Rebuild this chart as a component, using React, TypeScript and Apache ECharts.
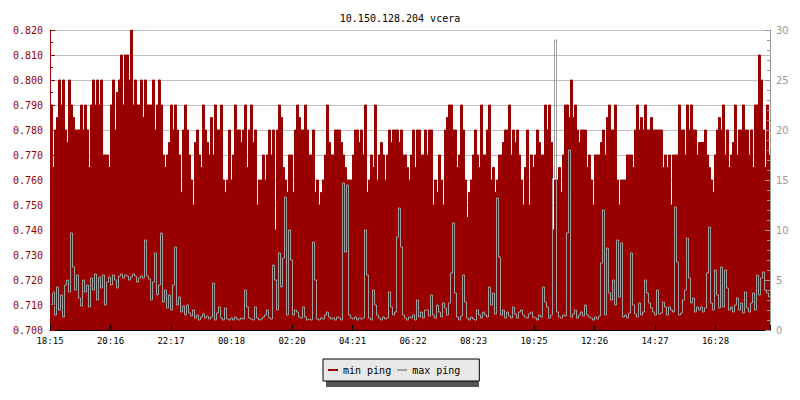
import React, { useEffect, useRef } from 'react';
import * as echarts from 'echarts';

const chartTitle = '10.150.128.204 vcera';
const timeLabels = ['18:15', '20:16', '22:17', '00:18', '02:20', '04:21', '06:22', '08:23', '10:25', '12:26', '14:27', '16:28'];
const seriesNames = ['min ping', 'max ping'];

// min ping (left axis), one value per 4 minutes
const minPing = [
  0.790,0.765,0.780,0.785,0.800,0.790,0.800,0.780,0.775,0.800,
  0.790,0.785,0.780,0.780,0.780,0.790,0.780,0.790,0.780,0.765,
  0.790,0.800,0.790,0.800,0.790,0.800,0.770,0.770,0.770,0.765,
  0.790,0.800,0.780,0.795,0.800,0.810,0.790,0.810,0.810,0.800,
  0.820,0.790,0.800,0.790,0.790,0.800,0.785,0.800,0.790,0.790,
  0.790,0.800,0.780,0.790,0.800,0.790,0.770,0.765,0.770,0.775,
  0.790,0.780,0.790,0.780,0.770,0.755,0.780,0.790,0.780,0.770,
  0.760,0.750,0.775,0.780,0.770,0.765,0.790,0.780,0.775,0.770,
  0.785,0.770,0.790,0.780,0.780,0.790,0.760,0.755,0.760,0.780,

  0.760,0.770,0.790,0.780,0.780,0.775,0.780,0.790,0.765,0.780,
  0.790,0.775,0.780,0.750,0.760,0.760,0.770,0.760,0.770,0.780,
  0.770,0.780,0.740,0.780,0.790,0.785,0.765,0.760,0.755,0.770,
  0.770,0.755,0.780,0.790,0.785,0.780,0.780,0.790,0.780,0.770,
  0.770,0.780,0.755,0.760,0.750,0.755,0.760,0.770,0.790,0.775,
  0.770,0.770,0.780,0.780,0.780,0.775,0.770,0.765,0.760,0.760,
  0.760,0.770,0.780,0.780,0.775,0.780,0.770,0.790,0.755,0.760,
  0.770,0.765,0.790,0.760,0.770,0.775,0.770,0.760,0.770,0.780,
  0.775,0.780,0.780,0.780,0.775,0.780,0.770,0.770,0.765,0.760,

  0.770,0.780,0.765,0.780,0.780,0.770,0.770,0.780,0.770,0.780,
  0.780,0.750,0.760,0.755,0.770,0.760,0.750,0.780,0.785,0.790,
  0.790,0.780,0.780,0.765,0.770,0.790,0.780,0.760,0.745,0.755,
  0.760,0.770,0.780,0.770,0.765,0.790,0.770,0.770,0.780,0.790,
  0.760,0.765,0.755,0.760,0.770,0.770,0.775,0.780,0.780,0.790,
  0.770,0.780,0.775,0.780,0.770,0.760,0.750,0.765,0.780,0.750,
  0.770,0.765,0.770,0.780,0.775,0.770,0.770,0.790,0.780,0.790,
  0.775,0.740,0.760,0.760,0.765,0.755,0.770,0.790,0.790,0.785,
  0.800,0.785,0.790,0.780,0.775,0.780,0.780,0.780,0.765,0.770,

  0.760,0.750,0.770,0.770,0.770,0.775,0.780,0.770,0.785,0.790,
  0.780,0.780,0.790,0.760,0.750,0.760,0.760,0.760,0.770,0.770,
  0.770,0.765,0.780,0.790,0.780,0.785,0.780,0.790,0.780,0.780,
  0.785,0.780,0.780,0.780,0.780,0.780,0.765,0.770,0.765,0.770,
  0.750,0.770,0.770,0.770,0.790,0.780,0.780,0.770,0.790,0.780,
  0.790,0.780,0.780,0.770,0.775,0.775,0.775,0.780,0.770,0.765,
  0.760,0.755,0.770,0.780,0.785,0.780,0.790,0.770,0.780,0.765,
  0.770,0.775,0.790,0.770,0.780,0.780,0.790,0.780,0.780,0.770,
  0.780,0.765,0.790,0.790,0.810,0.800,0.780,0.765,0.790,0.770
];

// max ping (right axis)
const maxPing = [
  2.5,3.8,1.5,4.3,2.0,3.5,1.3,4.5,5.0,3.8,
  9.7,6.3,4.0,5.5,3.2,2.4,5.0,3.8,4.5,2.3,
  5.2,4.0,5.6,3.0,5.3,4.2,5.5,2.5,4.8,5.3,
  4.5,5.5,5.0,4.2,5.4,5.6,5.2,5.5,5.4,5.0,
  5.3,5.6,5.4,4.8,5.2,5.4,5.2,9.0,5.4,5.1,
  3.0,4.8,7.7,3.5,4.5,9.7,2.8,4.0,2.2,3.5,
  2.0,4.5,8.3,2.5,3.3,1.8,2.4,1.5,2.5,1.7,
  1.4,2.0,1.2,1.5,1.0,1.3,1.6,1.2,1.4,1.1,
  1.3,4.7,1.0,1.7,2.3,1.2,1.0,2.2,1.1,1.0,

  1.2,1.0,1.3,1.1,1.0,1.2,1.1,4.0,2.3,1.2,
  1.1,1.0,2.3,1.2,1.0,1.1,1.3,1.5,2.0,1.2,
  1.1,6.5,5.0,2.0,7.7,4.3,7.2,13.3,1.5,10.0,
  7.0,1.5,2.0,1.8,1.3,1.2,2.3,1.3,1.0,1.1,
  1.0,8.8,5.0,1.1,1.0,1.2,1.1,1.5,1.8,1.3,
  1.1,1.2,1.0,1.3,1.2,1.0,14.7,7.8,14.5,1.5,
  1.2,1.1,1.3,1.0,1.2,1.1,1.2,10.0,5.5,1.2,
  1.0,4.0,2.5,1.5,1.2,1.0,1.3,1.1,1.2,3.8,
  2.3,1.5,1.8,9.3,12.2,8.3,1.5,1.2,1.0,1.3,

  1.2,1.5,1.0,3.0,1.3,1.8,1.2,2.0,2.0,1.4,
  3.5,1.5,1.2,2.5,1.8,1.3,2.7,2.2,1.5,2.7,
  5.7,10.7,3.7,1.3,1.0,1.4,5.5,2.8,1.2,1.0,
  1.3,1.1,1.0,2.0,1.5,1.2,1.8,1.5,1.3,4.3,
  2.5,3.7,1.6,13.2,7.3,1.5,2.0,1.2,1.8,1.4,
  1.2,2.3,1.6,1.2,1.8,2.0,1.5,1.3,1.2,1.6,
  1.8,1.3,1.2,1.0,1.5,1.3,4.3,2.8,2.3,1.2,
  1.5,15.2,29.0,1.8,1.3,1.2,1.5,1.4,9.7,18.0,
  1.3,1.6,2.0,1.2,1.5,1.8,1.4,2.5,1.5,1.3,

  1.2,1.0,1.3,1.1,1.4,6.7,12.0,1.5,8.2,3.7,
  3.0,5.0,2.5,9.0,3.3,8.7,1.3,1.5,1.2,1.7,
  7.7,2.5,1.6,1.3,2.7,1.5,1.8,5.0,3.7,2.7,
  2.2,1.8,1.5,4.0,1.6,1.7,2.8,2.3,1.5,2.3,
  2.0,1.8,12.3,6.8,1.5,1.7,3.0,4.0,9.2,5.2,
  2.7,3.2,1.8,2.3,2.0,2.3,1.8,2.2,5.7,10.3,
  2.7,2.0,6.0,3.5,2.2,6.3,2.3,6.0,4.2,2.0,
  2.3,1.8,2.5,3.2,2.0,2.7,1.7,3.8,2.2,1.8,
  2.7,3.7,2.0,5.5,3.5,5.2,5.8,4.0,3.7,3.3
];

const RED = '#990000';
const GRAY = '#a0a0a0';
const MONO = 'DejaVu Sans Mono';

export default function App() {
  const ref = useRef<HTMLDivElement>(null);
  useEffect(() => {
    const chart = echarts.init(ref.current as HTMLDivElement, null, { renderer: 'svg' });
    const n = minPing.length;
    const step = 30.25; // slots per labelled tick (121 min)
    const half = 0.25; // half a pixel, keeps 1px vertical strokes crisp
    const toPairs = (arr: number[]) => {
      const p = arr.map((v, i) => [i + half, v]);
      p.push([arr.length, arr[arr.length - 1]]);
      return p;
    };
    chart.setOption({
      animation: false,
      backgroundColor: '#ffffff',
      title: {
        text: chartTitle,
        left: 'center',
        top: 8,
        textStyle: { fontFamily: MONO, fontSize: 10, fontWeight: 'normal', color: '#000' },
      },
      grid: { left: 50, right: 30, top: 30, bottom: 70 },
      graphic: [
        { type: 'rect', z: 1, shape: { x: 326, y: 362, width: 153, height: 25 }, style: { fill: '#555555' } },
      ],
      legend: {
        z: 5,
        left: 323,
        top: 359,
        padding: [6, 19, 6, 5],
        backgroundColor: '#e8e8e8',
        borderColor: '#000',
        borderWidth: 1,
        borderRadius: 0,
        itemWidth: 10,
        itemHeight: 2,
        itemGap: 6,
        textStyle: { fontFamily: MONO, fontSize: 10, color: '#000' },
        data: [
          { name: seriesNames[0], icon: 'rect', itemStyle: { color: RED } },
          { name: seriesNames[1], icon: 'rect', itemStyle: { color: GRAY } },
        ],
      },
      xAxis: {
        type: 'value',
        min: 0,
        max: n,
        interval: step,
        z: 10,
        axisLine: { show: true, lineStyle: { color: '#000', width: 1 } },
        axisTick: { show: true, inside: true, length: 5, lineStyle: { color: '#000' } },
        splitLine: { show: false },
        axisLabel: {
          margin: 6,
          fontFamily: MONO,
          fontSize: 9,
          color: '#000',
          formatter: (v: number) => {
            const k = Math.round(v / step);
            return Math.abs(k * step - v) < 1e-6 && k < timeLabels.length ? timeLabels[k] : '';
          },
        },
      },
      yAxis: [
        {
          type: 'value',
          position: 'left',
          min: 0.7,
          max: 0.82,
          interval: 0.01,
          z: 0,
          axisLine: { show: false },
          axisTick: { show: false },
          axisLabel: { show: false },
          splitLine: { show: true, lineStyle: { color: '#c0c0c0', width: 1 } },
        },
        {
          type: 'value',
          position: 'right',
          min: 0,
          max: 30,
          interval: 5,
          z: 10,
          axisLine: { show: true, lineStyle: { color: '#999', width: 1 } },
          axisTick: { show: true, inside: true, length: 5, lineStyle: { color: '#999' } },
          minorTick: { show: true, splitNumber: 5, length: 3, lineStyle: { color: '#999' } },
          splitLine: { show: false },
          axisLabel: { margin: 6, fontFamily: 'DejaVu Sans', fontSize: 10, color: '#999' },
        },
        {
          type: 'value',
          position: 'left',
          min: 0.7,
          max: 0.82,
          interval: 0.01,
          z: 10,
          axisLine: { show: true, lineStyle: { color: RED, width: 1 } },
          axisTick: { show: true, inside: true, length: 5, lineStyle: { color: RED } },
          minorTick: { show: true, splitNumber: 2, length: 3, lineStyle: { color: RED } },
          splitLine: { show: false },
          axisLabel: {
            margin: 7,
            fontFamily: MONO,
            fontSize: 10,
            color: RED,
            formatter: (v: number) => v.toFixed(3),
          },
        },
      ],
      series: [
        {
          name: seriesNames[0],
          type: 'line',
          yAxisIndex: 0,
          step: 'end',
          symbol: 'none',
          z: 2,
          data: toPairs(minPing),
          itemStyle: { color: RED },
          lineStyle: { color: RED, width: 1 },
          areaStyle: { color: RED, opacity: 1, origin: 'start' },
        },
        {
          name: seriesNames[1],
          type: 'line',
          yAxisIndex: 1,
          step: 'end',
          symbol: 'none',
          z: 3,
          data: toPairs(maxPing),
          itemStyle: { color: GRAY },
          lineStyle: { color: GRAY, width: 1 },
        },
      ],
    });
    return () => chart.dispose();
  }, []);
  return <div ref={ref} style={{ position: 'absolute', left: 0, top: 0, width: 800, height: 400 }} />;
}
